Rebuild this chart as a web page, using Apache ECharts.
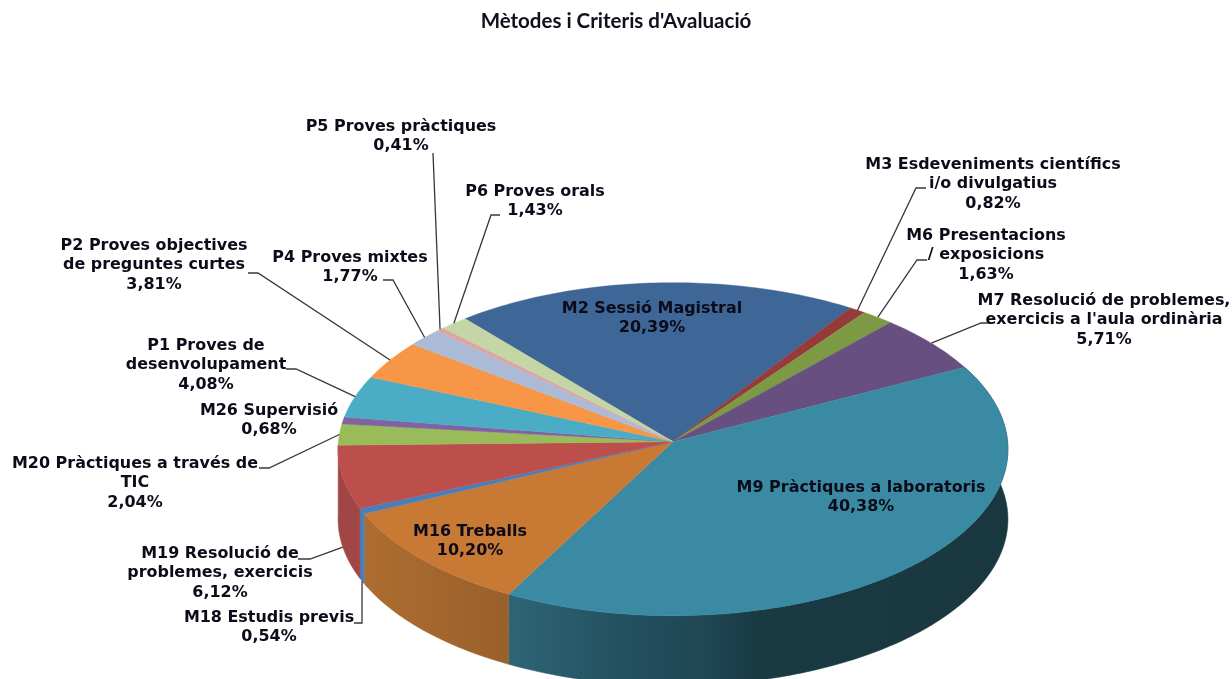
<!DOCTYPE html>
<html>
<head>
<meta charset="utf-8">
<style>
  html, body { margin: 0; padding: 0; background: #fff; }
  #chart { width: 1232px; height: 679px; }
</style>
<script src="https://cdn.jsdelivr.net/npm/echarts@6/dist/echarts.min.js"></script>
</head>
<body>
<div id="chart"></div>
<script>
// dades llegides del gràfic
const categories = [
  "M2 Sessió Magistral",
  "M3 Esdeveniments científics\ni/o divulgatius",
  "M6 Presentacions\n/ exposicions",
  "M7 Resolució de problemes,\nexercicis a l'aula ordinària",
  "M9 Pràctiques a laboratoris",
  "M16 Treballs",
  "M18 Estudis previs",
  "M19 Resolució de\nproblemes, exercicis",
  "M20 Pràctiques a través de\nTIC",
  "M26 Supervisió",
  "P1 Proves de\ndesenvolupament",
  "P2 Proves objectives\nde preguntes curtes",
  "P4 Proves mixtes",
  "P5 Proves pràctiques",
  "P6 Proves orals"
];
const values = [20.39, 0.82, 1.63, 5.71, 40.38, 10.20, 0.54, 6.12, 2.04, 0.68, 4.08, 3.81, 1.77, 0.41, 1.43];

// colors de la cara superior i del lateral
const topColors = ["#3e6797", "#953b39", "#7b9a43", "#674f80", "#3b8aa3", "#c87933", "#4a7ebb", "#bc4e4c",
  "#9abb59", "#8064a2", "#4bacc6", "#f79646", "#aabad7", "#d9a8a6", "#c4d5a6"];
const wallColors = ["#2e4d71", "#6f2c2a", "#5c7332", "#4d3b60", "#1b3a44", "#a1632d", "#4a7ebb", "#a04746",
  "#738c42", "#604b79", "#388094", "#b97034", "#7f8ba1", "#a27e7c", "#93a07c"];

// posició de cada etiqueta: [centre x, y de la primera línia]
const labelPos = [[652, 299], [993, 155], [986, 226], [1104, 291], [861, 478], [470, 522], [269, 608], [220, 544],
  [135, 454], [269, 401], [206, 336], [154, 236], [350, 248], [401, 117], [535, 182]];
// tram de la línia guia: colze i final (null = sense línia)
const leaderEnds = [null, [[916, 188], [926, 188]], [[917, 260], [927, 260]], [[981, 323], [991, 323]], null, null,
  [[362, 623], [354, 623]], [[310, 559], [298, 559]], [[269, 468], [259, 468]], null,
  [[296, 369], [286, 369]], [[258, 273], [248, 273]], [[393, 280], [383, 280]], [[433, 153]], [[491, 215], [500, 215]]];
// la línia surt de la vora inferior del lateral
const leaderFromBottom = [6, 7];

const startAngle = -40;
const total = values.reduce((a, b) => a + b, 0);
const cx = 673, cy = 441.7, R = 334.6, S = 166.2, persp = 0.045, depth = 70;
const font = "bold 15.95px 'DejaVu Sans'";

function bearing(cum) {
  return (startAngle + cum / total * 360) * Math.PI / 180;
}
function project(b, off) {
  const X = Math.sin(b), Y = -Math.cos(b), d = 1 - persp * Y;
  return [cx + R * X / d, cy + S * Y / d + (off || 0)];
}
function arc(from, to, off) {
  const n = Math.max(2, Math.ceil((to - from) * 180 / Math.PI));
  const pts = [];
  for (let i = 0; i <= n; i++) pts.push(project(from + (to - from) * i / n, off));
  return pts;
}
function sliceRange(i) {
  let cum = 0;
  for (let k = 0; k < i; k++) cum += values[k];
  return [bearing(cum), bearing(cum + values[i])];
}

function wallFill(i) {
  if (i === 4) {
    return new echarts.graphic.LinearGradient(510, 0, 1008, 0, [
      { offset: 0, color: "#2e6576" },
      { offset: 0.22, color: "#235160" },
      { offset: 0.4, color: "#1f4654" },
      { offset: 0.5, color: "#1a3a43" },
      { offset: 1, color: "#19373f" }
    ], true);
  }
  if (i === 5) {
    return new echarts.graphic.LinearGradient(364, 0, 510, 0, [
      { offset: 0, color: "#ae6d30" },
      { offset: 1, color: "#98602b" }
    ], true);
  }
  return wallColors[i];
}

function renderWall(params, api) {
  const i = params.dataIndex;
  const r = sliceRange(i);
  // només es veuen els laterals de la meitat frontal
  if (Math.cos((r[0] + r[1]) / 2) > 0) return null;
  const pts = arc(r[0], r[1], 0).concat(arc(r[0], r[1], depth).reverse());
  const fill = wallFill(i);
  return { type: "polygon", shape: { points: pts }, style: { fill: fill, stroke: fill, lineWidth: 0.5 } };
}

function renderTop(params, api) {
  const i = params.dataIndex;
  const r = sliceRange(i);
  const pts = [[cx, cy]].concat(arc(r[0], r[1], 0));
  return {
    type: "polygon",
    shape: { points: pts },
    style: { fill: topColors[i], stroke: topColors[i], lineWidth: 0.4 }
  };
}

function renderLabel(params, api) {
  const i = params.dataIndex;
  const children = [];
  if (leaderEnds[i]) {
    const r = sliceRange(i);
    const off = leaderFromBottom.indexOf(i) >= 0 ? depth : 0;
    const pts = [project((r[0] + r[1]) / 2, off)].concat(leaderEnds[i]);
    children.push({
      type: "polyline",
      shape: { points: pts },
      style: { fill: "none", stroke: "#383838", lineWidth: 1.3 }
    });
  }
  const pct = api.value(1).toFixed(2).replace(".", ",") + "%";
  children.push({
    type: "text",
    style: {
      x: labelPos[i][0],
      y: labelPos[i][1],
      text: categories[i] + "\n" + pct,
      font: font,
      lineHeight: 19.4,
      fill: "#0b0b1a",
      textAlign: "center",
      textVerticalAlign: "top"
    }
  });
  return { type: "group", children: children };
}

const seriesData = values.map((v, i) => [i, v]);
const chart = echarts.init(document.getElementById("chart"), null, { renderer: "canvas", width: 1232, height: 679 });
chart.setOption({
  animation: false,
  backgroundColor: "#ffffff",
  title: {
    text: "Mètodes i Criteris d'Avaluació",
    left: "center",
    top: 6,
    textStyle: { fontFamily: "Lato", fontWeight: "bold", fontSize: 20.5, color: "#10101f" }
  },
  series: [
    { type: "custom", coordinateSystem: "none", silent: true, z: 1, data: seriesData, renderItem: renderWall },
    { type: "custom", coordinateSystem: "none", silent: true, z: 2, data: seriesData, renderItem: renderTop },
    { type: "custom", coordinateSystem: "none", silent: true, z: 3, data: seriesData, renderItem: renderLabel }
  ]
});
</script>
</body>
</html>
